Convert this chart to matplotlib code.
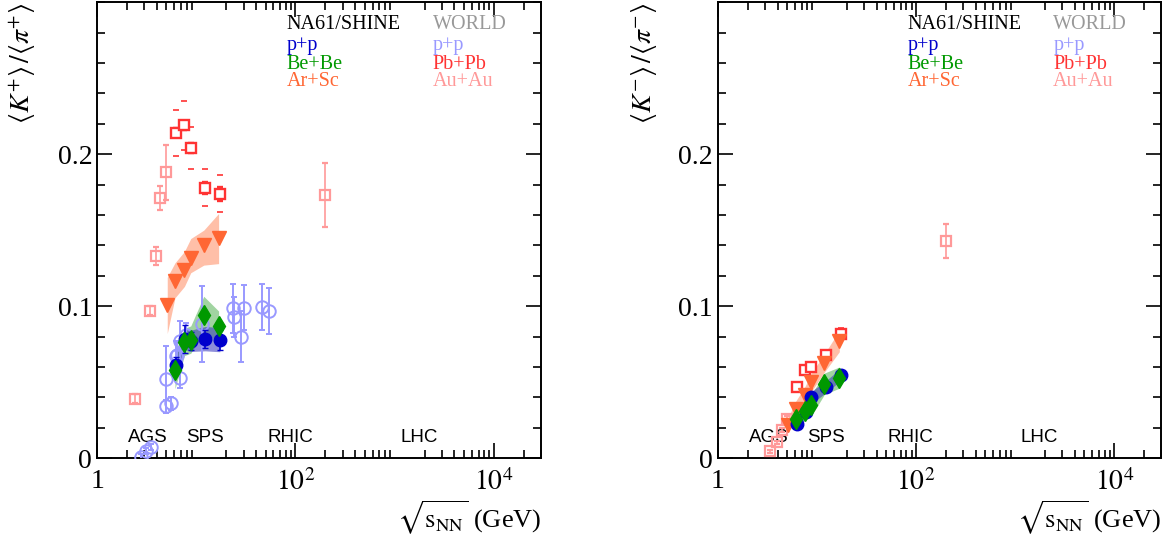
import numpy as np
import matplotlib
matplotlib.use("Agg")
import matplotlib.pyplot as plt
from matplotlib.ticker import LogLocator, MultipleLocator, FixedLocator, NullFormatter

plt.rcParams['mathtext.fontset'] = 'stix'
plt.rcParams['font.family'] = ['Liberation Serif', 'DejaVu Serif']

# ---------------- data: left panel K+/pi+ ----------------
na61_pp_x = [6.3, 7.7, 8.8, 12.3, 17.3]
na61_pp_kp = [0.0615, 0.0785, 0.0772, 0.0786, 0.0780]
na61_pp_kp_stat = [0.005, 0.009, 0.006, 0.006, 0.0066]
na61_pp_kp_sys = [0.006, 0.007, 0.007, 0.008, 0.008]

na61_bebe_x = [6.1, 7.6, 8.8, 11.9, 16.8]
na61_bebe_kp = [0.0577, 0.0765, 0.0780, 0.0945, 0.0868]
na61_bebe_kp_stat = [0.003, 0.003, 0.003, 0.003, 0.003]
na61_bebe_kp_sys = [0.012, 0.009, 0.009, 0.012, 0.010]

na61_arsc_x = [5.1, 6.1, 7.6, 8.8, 11.9, 16.8]
na61_arsc_kp = [0.101, 0.1165, 0.124, 0.132, 0.140, 0.145]
na61_arsc_kp_sys_lo = [0.019, 0.011, 0.011, 0.010, 0.013, 0.017]
na61_arsc_kp_sys_hi = [0.018, 0.012, 0.012, 0.0125, 0.010, 0.016]

world_pp_x = [2.75, 3.1, 3.5, 5.0, 5.0, 5.5, 6.2, 6.4, 6.8, 6.9, 7.8, 11.5, 23.6, 24.2, 28.0, 30.3, 45.7, 54.3]
world_pp_kp = [0.001, 0.005, 0.0075, 0.052, 0.034, 0.036, 0.067, 0.068, 0.077, 0.053, 0.081,
               0.088, 0.0985, 0.093, 0.080, 0.099, 0.0995, 0.097]
world_pp_kp_err = [0.002, 0.002, 0.002, 0.022, 0.004, 0.004, 0.010, 0.008, 0.013, 0.007, 0.008,
                   0.025, 0.016, 0.013, 0.017, 0.015, 0.015, 0.015]

pbpb_x = [6.3, 7.6, 8.8, 12.3, 17.3]
pbpb_kp = [0.214, 0.219, 0.204, 0.178, 0.174]
pbpb_kp_stat = [0.003, 0.003, 0.0035, 0.004, 0.0045]
pbpb_kp_sys = [0.015, 0.016, 0.014, 0.012, 0.012]

auau_x = [2.4, 3.4, 3.9, 4.35, 5.0, 200.0]
auau_kp = [0.039, 0.097, 0.133, 0.171, 0.188, 0.173]
auau_kp_err = [0.003, 0.003, 0.006, 0.008, 0.018, 0.021]

# ---------------- data: right panel K-/pi- ----------------
na61_pp_km = [0.0226, 0.0305, 0.0400, 0.0470, 0.0550]
na61_pp_km_err = [0.0025, 0.002, 0.002, 0.002, 0.002]
na61_pp_km_sys = [0.003, 0.003, 0.004, 0.004, 0.004]

na61_bebe_km = [0.0255, 0.0310, 0.0350, 0.0490, 0.0530]
na61_bebe_km_sys = [0.006, 0.006, 0.007, 0.007, 0.007]

na61_arsc_km = [0.0217, 0.0325, 0.0414, 0.0500, 0.0627, 0.0770]
na61_arsc_km_sys = [0.005, 0.005, 0.006, 0.006, 0.006, 0.007]

pbpb_km = [0.047, 0.0583, 0.0600, 0.068, 0.0818]
pbpb_km_stat = [0.0015, 0.0015, 0.0015, 0.002, 0.002]
pbpb_km_sys = [0.003, 0.003, 0.003, 0.003, 0.004]

auau_km_x = [3.37, 3.95, 4.44, 4.98, 200.0]
auau_km = [0.0046, 0.0105, 0.0185, 0.026, 0.1428]
auau_km_err = [0.001, 0.001, 0.0015, 0.002, 0.011]

regions = ["AGS", "SPS", "RHIC", "LHC"]
region_x = [3.25, 12.3, 88.0, 1750.0]

# ---------------- style ----------------
C_PP = '#0000cc'
C_BE = '#009900'
C_AR = '#ff6633'
C_AR_BAND = '#ffbfa8'
C_WPP = '#9999ff'
C_PB = '#ff3333'
C_AU = '#ff9999'

fig = plt.figure(figsize=(11.75, 5.5), dpi=100)
axL = fig.add_axes([0.0826, 0.167, 0.378, 0.829])
axR = fig.add_axes([0.611, 0.167, 0.3775, 0.829])


def style_axes(ax):
    ax.set_xscale('log')
    ax.set_xlim(1, 3.0e4)
    ax.set_ylim(0, 0.3)
    ax.xaxis.set_major_locator(FixedLocator([1, 1e2, 1e4]))
    ax.xaxis.set_minor_locator(LogLocator(base=10, subs=np.arange(2, 10), numticks=20))
    ax.xaxis.set_minor_formatter(NullFormatter())
    ax.set_xticklabels(['1', r'$10^2$', r'$10^4$'])
    ax.yaxis.set_major_locator(FixedLocator([0, 0.1, 0.2]))
    ax.set_yticklabels(['0', '0.1', '0.2'])
    ax.yaxis.set_minor_locator(MultipleLocator(0.02))
    ax.tick_params(which='both', direction='in', top=True, right=True, width=1.2,
                   labelsize=20)
    ax.tick_params(which='major', length=11)
    ax.tick_params(which='minor', length=5.5)
    ax.tick_params(axis='x', which='major', pad=8)
    for s in ax.spines.values():
        s.set_linewidth(1.4)
    ax.set_xlabel(r'$\sqrt{\mathrm{s}_{\mathrm{NN}}}$ (GeV)', fontsize=19, loc='right', labelpad=2)
    for name, xv in zip(regions, region_x):
        ax.text(xv, 0.0137, name, ha='center', va='center', fontsize=13.5,
                family=['Liberation Sans', 'DejaVu Sans'])


def legend(ax):
    kw = dict(transform=ax.transAxes, fontsize=14.5, va='center', ha='left')
    ax.text(0.427, 0.950, 'NA61/SHINE', color='black', **kw)
    ax.text(0.427, 0.906, 'p+p', color=C_PP, **kw)
    ax.text(0.427, 0.864, 'Be+Be', color=C_BE, **kw)
    ax.text(0.427, 0.825, 'Ar+Sc', color=C_AR, **kw)
    ax.text(0.756, 0.950, 'WORLD', color='#999999', **kw)
    ax.text(0.756, 0.906, 'p+p', color=C_WPP, **kw)
    ax.text(0.756, 0.864, 'Pb+Pb', color=C_PB, **kw)
    ax.text(0.756, 0.825, 'Au+Au', color=C_AU, **kw)


def band(ax, x, y, lo, hi, color, alpha, z):
    y = np.asarray(y); lo = np.asarray(lo); hi = np.asarray(hi)
    ax.fill_between(x, y - lo, y + hi, color=color, alpha=alpha, lw=0, zorder=z)


# ---------------- left panel ----------------
ax = axL
style_axes(ax)
legend(ax)
ax.set_ylabel(r'$\langle K^{+}\rangle\,/\langle\pi^{+}\rangle$', fontsize=20, loc='top', labelpad=14)

band(ax, na61_arsc_x, na61_arsc_kp, na61_arsc_kp_sys_lo, na61_arsc_kp_sys_hi, C_AR_BAND, 1.0, 1)
band(ax, na61_bebe_x, na61_bebe_kp, na61_bebe_kp_sys, na61_bebe_kp_sys, '#44aa44', 0.5, 2)
band(ax, na61_pp_x, na61_pp_kp, na61_pp_kp_sys, na61_pp_kp_sys, '#3333bb', 0.55, 2)

ax.errorbar(world_pp_x, world_pp_kp, yerr=world_pp_kp_err, fmt='o', ms=9, mfc='none',
            mec=C_WPP, mew=1.4, ecolor=C_WPP, elinewidth=1.4, capsize=2, zorder=3)
ax.errorbar(auau_x, auau_kp, yerr=auau_kp_err, fmt='s', ms=7, mfc='none', mec=C_AU, mew=1.6,
            ecolor=C_AU, elinewidth=1.2, capsize=2, zorder=3)
ax.errorbar(pbpb_x, pbpb_kp, yerr=pbpb_kp_sys, fmt='none', elinewidth=0, ecolor=C_PB,
            capsize=2.2, capthick=1.2, zorder=3)
ax.errorbar(pbpb_x, pbpb_kp, yerr=pbpb_kp_stat, fmt='s', ms=7.5, mfc='white', mec=C_PB, mew=1.7,
            ecolor=C_PB, elinewidth=1.2, capsize=2, zorder=4)
ax.plot(na61_arsc_x, na61_arsc_kp, 'v', ms=10.5, color=C_AR, zorder=5)
ax.errorbar(na61_pp_x, na61_pp_kp, yerr=na61_pp_kp_stat, fmt='o', ms=9, color=C_PP,
            elinewidth=1.2, capsize=2, zorder=5)
ax.errorbar(na61_bebe_x, na61_bebe_kp, yerr=na61_bebe_kp_stat, fmt='d', ms=10, color=C_BE,
            elinewidth=1.2, capsize=2, zorder=6)

# ---------------- right panel ----------------
ax = axR
style_axes(ax)
legend(ax)
ax.set_ylabel(r'$\langle K^{-}\rangle\,/\langle\pi^{-}\rangle$', fontsize=20, loc='top', labelpad=14)

band(ax, na61_arsc_x, na61_arsc_km, na61_arsc_km_sys, na61_arsc_km_sys, C_AR_BAND, 1.0, 1)
band(ax, na61_bebe_x, na61_bebe_km, na61_bebe_km_sys, na61_bebe_km_sys, '#44aa44', 0.5, 2)
band(ax, na61_pp_x, na61_pp_km, na61_pp_km_sys, na61_pp_km_sys, '#3333bb', 0.55, 2)

ax.errorbar(auau_km_x, auau_km, yerr=auau_km_err, fmt='s', ms=7, mfc='none', mec=C_AU, mew=1.6,
            ecolor=C_AU, elinewidth=1.2, capsize=2, zorder=3)
ax.errorbar(pbpb_x, pbpb_km, yerr=pbpb_km_sys, fmt='none', elinewidth=0, ecolor=C_PB,
            capsize=2.2, capthick=1.2, zorder=3)
ax.errorbar(pbpb_x, pbpb_km, yerr=pbpb_km_stat, fmt='s', ms=7.5, mfc='white', mec=C_PB, mew=1.7,
            ecolor=C_PB, elinewidth=1.2, capsize=2, zorder=4)
ax.plot(na61_arsc_x, na61_arsc_km, 'v', ms=10.5, color=C_AR, zorder=5)
ax.errorbar(na61_pp_x, na61_pp_km, yerr=na61_pp_km_err, fmt='o', ms=9, color=C_PP,
            elinewidth=1.2, capsize=2, zorder=5)
ax.plot(na61_bebe_x, na61_bebe_km, 'd', ms=10, color=C_BE, zorder=6)

fig.savefig('out.png', dpi=100)
